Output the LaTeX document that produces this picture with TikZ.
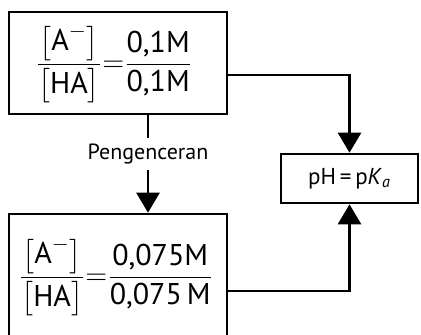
\documentclass[tikz,border=0pt]{standalone}
\usepackage{amsmath}
\usepackage{fontspec}
\setmainfont{PT Sans}
\usetikzlibrary{arrows.meta, positioning}

\begin{document}
\begin{tikzpicture}[x=0.5pt, y=-0.5pt,
    every node/.style={font=\fontsize{11}{13}\selectfont},
    box/.style={draw=black, line width=1.3pt, minimum width=109pt,
        minimum height=51pt, inner sep=0pt},
    ratio/.style={font=\fontsize{15}{18}\selectfont, inner sep=1pt},
    phbox/.style={draw=black, line width=1.3pt, minimum width=68.5pt,
        minimum height=24.5pt, inner sep=0pt, font=\fontsize{11.5}{13}\selectfont},
    arr/.style={-{Triangle[length=10pt, width=11.5pt]}, line width=1.3pt},
]
\useasboundingbox (0,0) rectangle (421,334);

% === boxes ===
\node[box] (before) at (118, 63) {};
\node[ratio] (fracbefore) at (114, 64)
    {$\dfrac{\bigl[\text{A}^{-}\bigr]}{\bigl[\text{HA}\bigr]}
      {=}\dfrac{\text{0,1M}}{\text{0,1M}}$};

\node[box, minimum height=65pt] (after) at (118, 279) {};
\node[ratio] (fracafter) at (116, 277)
    {$\dfrac{\bigl[\text{A}^{-}\bigr]}{\bigl[\text{HA}\bigr]}
      {=}\dfrac{\text{0,075M}}{\text{0,075\,M}}$};

\node[phbox] (ph) at (349.5, 178.5)
    {pH\,=\,p\textit{K}\textsubscript{\textit{a}}};

% === connectors ===
\draw[arr] ([xshift=15pt]before.south) -- ([xshift=15pt]after.north)
    node[pos=0.4, fill=white, inner sep=3pt] (dil) {Pengenceran};
\draw[arr] ([yshift=-6pt]before.east) -| (ph.north);
\draw[arr] ([yshift=-6pt]after.east) -| (ph.south);

\end{tikzpicture}
\end{document}
